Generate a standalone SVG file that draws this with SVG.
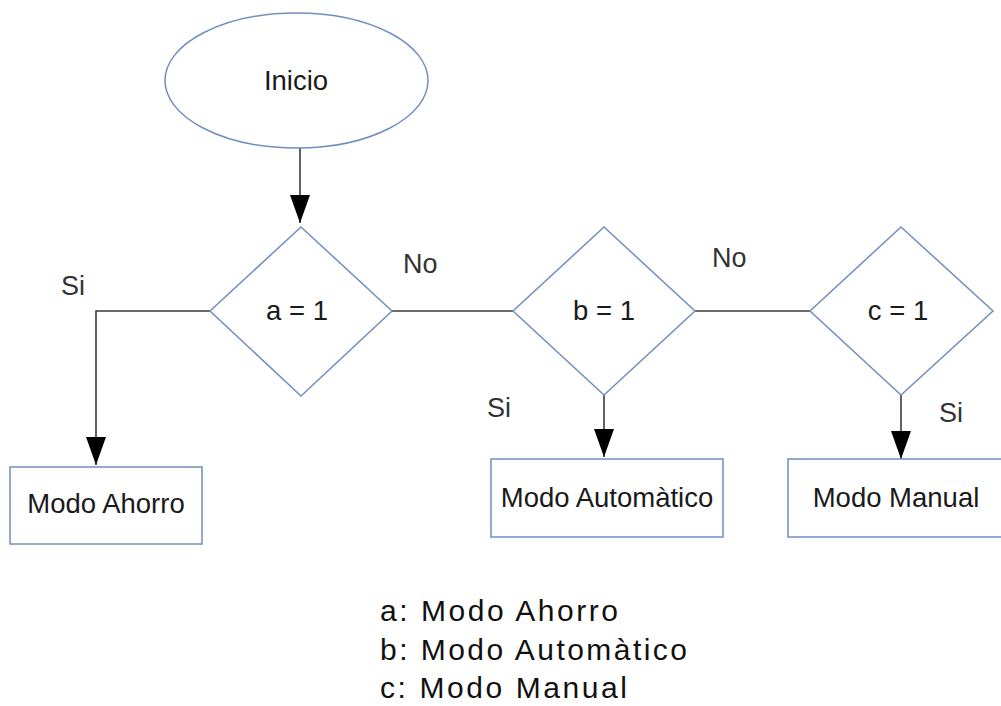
<svg xmlns="http://www.w3.org/2000/svg" width="1001" height="706" viewBox="0 0 1001 706">
<style>
.shape{fill:#ffffff;stroke:#6f8fc0;stroke-width:1.5}
.conn{fill:none;stroke:#3a3a3a;stroke-width:1.6}
.t{font-family:"Liberation Sans",Arial,sans-serif;font-size:27.5px;fill:#1a1a1a;text-anchor:middle}
.lbl{font-family:"Liberation Sans",Arial,sans-serif;font-size:27px;fill:#333333}
.leg{font-family:"Liberation Sans",Arial,sans-serif;font-size:30px;fill:#111111}
</style>
<defs>
<marker id="arr" markerUnits="userSpaceOnUse" markerWidth="30" markerHeight="22" refX="28" refY="10" orient="auto">
<path d="M0,0 L28,10 L0,20 Z" fill="#000000"/>
</marker>
</defs>
<rect width="1001" height="706" fill="#ffffff"/>
<g id="connectors">
<path class="conn" d="M300,148 V223" marker-end="url(#arr)"/>
<path class="conn" d="M210,311 H96 V465" marker-end="url(#arr)"/>
<path class="conn" d="M392,311 H513"/>
<path class="conn" d="M695,311 H810"/>
<path class="conn" d="M604,395 V457" marker-end="url(#arr)"/>
<path class="conn" d="M901,395 V459" marker-end="url(#arr)"/>
<text class="lbl" x="61" y="295">Si</text>
<text class="lbl" x="403" y="273">No</text>
<text class="lbl" x="712" y="267">No</text>
<text class="lbl" x="487" y="417">Si</text>
<text class="lbl" x="939" y="422">Si</text>
</g>
<g id="inicio">
<ellipse class="shape" cx="296.5" cy="80.5" rx="131.5" ry="67.5"/>
<text class="t" x="296" y="90">Inicio</text>
</g>
<g id="dec-a">
<polygon class="shape" points="301,227 392,311 301,396 210,311"/>
<text class="t" x="297" y="320">a = 1</text>
</g>
<g id="dec-b">
<polygon class="shape" points="604,227 695,311 604,395 513,311"/>
<text class="t" x="604" y="320">b = 1</text>
</g>
<g id="dec-c">
<polygon class="shape" points="901,227 993,311 901,395 810,311"/>
<text class="t" x="898" y="320">c = 1</text>
</g>
<g id="box-ahorro">
<rect class="shape" x="10" y="467" width="192" height="77"/>
<text class="t" x="106" y="513">Modo Ahorro</text>
</g>
<g id="box-auto">
<rect class="shape" x="491" y="459" width="232" height="78"/>
<text class="t" x="607" y="507">Modo Automàtico</text>
</g>
<g id="box-manual">
<rect class="shape" x="788" y="459" width="220" height="78"/>
<text class="t" x="896" y="507">Modo Manual</text>
</g>
<g id="legend">
<text class="leg" x="380" y="621" textLength="238" lengthAdjust="spacing">a: Modo Ahorro</text>
<text class="leg" x="380" y="660" textLength="307" lengthAdjust="spacing">b: Modo Automàtico</text>
<text class="leg" x="380" y="698" textLength="247" lengthAdjust="spacing">c: Modo Manual</text>
</g>
</svg>
